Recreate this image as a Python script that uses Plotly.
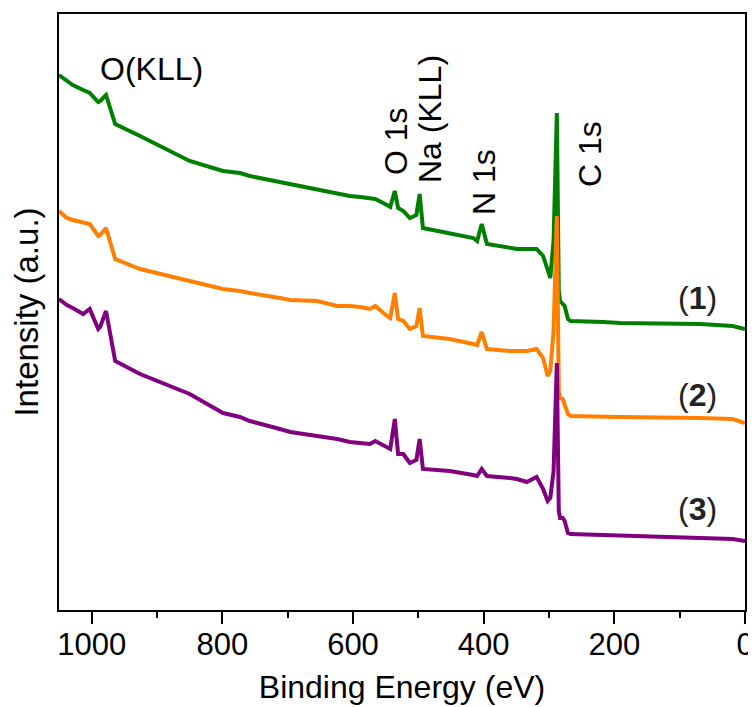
import plotly.graph_objects as go

# Binding energy grid (eV)
energy = [1050, 1038, 1029, 1013, 1003, 990, 987, 978, 964, 926,
          850, 799, 773, 758, 712, 696, 655, 624, 605, 589,
          574, 566, 548, 543, 536, 531, 523, 513, 503, 498,
          493, 452, 416, 410, 403, 395, 360, 349, 334, 319,
          309, 302, 298, 293, 288, 285, 283, 279, 276, 271,
          267, 217, 191, 69, 19, 0]

# Intensities (a.u., offset stacked)
spec1 = [535, 529, 525, 520, 517, 508, 509, 515, 486, 474,
         449, 439, 437, 434, 428, 426, 420, 416, 414, 413,
         412, 411, 405, 403, 419, 402, 399, 392, 395, 416,
         382, 377, 372, 369, 386, 366, 362, 361, 361, 361,
         354, 341, 332, 369, 497, 319, 309, 306, 304, 291,
         289, 288, 287, 286, 284, 281]
spec2 = [399, 392, 390, 388, 386, 374, 375, 382, 351, 341,
         329, 321, 319, 317, 312, 310, 309, 304, 304, 303,
         301, 304, 294, 292, 317, 291, 289, 281, 284, 302,
         274, 271, 266, 265, 278, 261, 259, 259, 259, 261,
         252, 234, 239, 279, 394, 219, 212, 211, 206, 196,
         194, 194, 193, 192, 191, 187]
spec3 = [311, 305, 302, 296, 301, 281, 283, 299, 249, 236,
         216, 197, 193, 189, 181, 178, 174, 171, 168, 167,
         166, 169, 163, 161, 191, 156, 156, 147, 150, 171,
         141, 139, 135, 134, 141, 134, 132, 131, 128, 133,
         121, 109, 112, 139, 247, 99, 92, 92, 89, 77,
         76, 75, 74, 72, 71, 69]

series = [("(1)", spec1, "#008000"), ("(2)", spec2, "#FF8000"), ("(3)", spec3, "#800080")]

x_ticks = [1000, 800, 600, 400, 200, 0]

fig = go.Figure()
for name, vals, col in series:
    fig.add_trace(go.Scatter(x=energy, y=vals, mode="lines", name=name,
                             line=dict(color=col, width=4), showlegend=False))

font = "Liberation Sans, Arial, sans-serif"

# page has an 8px body margin; figure coordinates are page - 8
OFF = 8
W, H = 748, 699
L, R, T, B = 59 - OFF, 745 - OFF, 14 - OFF, 610 - OFF

fig.update_layout(
    width=W, height=H,
    margin=dict(l=L, r=W - R, t=T, b=H - B),
    paper_bgcolor="white", plot_bgcolor="white",
    font=dict(family=font, color="black"),
    xaxis=dict(range=[1050, 0], tickvals=x_ticks, ticks="outside", ticklen=12,
               tickwidth=2, tickcolor="black", showline=True, linecolor="black",
               linewidth=2, mirror=True, showgrid=False, zeroline=False, automargin=False,
               tickfont=dict(size=31), ticklabelstandoff=-6,
               title=dict(text="Binding Energy (eV)", font=dict(size=32), standoff=14),
               minor=dict(dtick=100, tick0=0, ticks="outside", ticklen=6, tickwidth=2,
                          tickcolor="black", showgrid=False)),
    yaxis=dict(range=[0, 596], showticklabels=False, ticks="", showline=True,
               linecolor="black", linewidth=2, mirror=True, showgrid=False, automargin=False,
               zeroline=False, title=dict(text="Intensity (a.u.)", font=dict(size=33),
               standoff=10)),
)

# convert page pixel positions to paper coords relative to the plot area
def ann_px(text, xp, yp, angle=0, size=32, color="black"):
    px = (xp - OFF - L) / (R - L)
    py = (B - (yp - OFF)) / (B - T)
    fig.add_annotation(text=text, x=px, y=py, xref="paper", yref="paper",
                       showarrow=False, textangle=angle, font=dict(size=size, color=color),
                       xanchor="center", yanchor="middle")

ann_px("O(KLL)", 151, 69)
ann_px("O 1s", 396, 141, angle=-90)
ann_px("Na (KLL)", 430, 119, angle=-90)
ann_px("N 1s", 484, 182, angle=-90)
ann_px("C 1s", 590, 154, angle=-90)
ann_px("(<b>1</b>)", 697, 298, color="#222222")
ann_px("(<b>2</b>)", 697, 395, color="#222222")
ann_px("(<b>3</b>)", 697, 509, color="#222222")

fig.write_html("out.html")
